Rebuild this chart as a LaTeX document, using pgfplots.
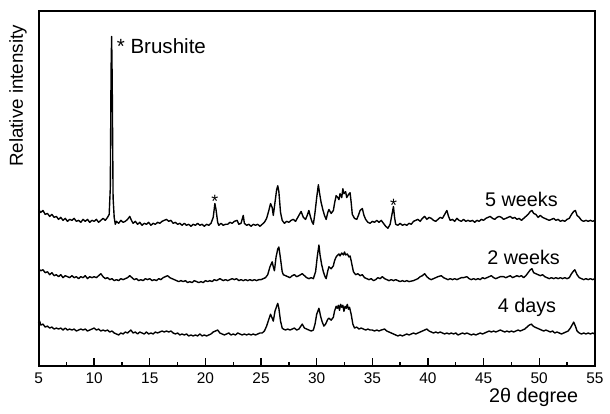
\documentclass[border=0pt]{standalone}
\usepackage{fontspec}
\setmainfont{Liberation Sans}
\usepackage{pgfplots}
\pgfplotsset{compat=1.18}

\begin{document}
\begin{tikzpicture}
\begin{axis}[width=281.5pt, height=179.5pt, scale only axis,
  xmin=5, xmax=55, ymin=0, ymax=359, clip=false,
  xtick={5,10,...,55}, minor xtick={7.5,12.5,...,52.5}, ytick=\empty,
  xtick pos=bottom, tick align=inside,
  major tick length=4pt, minor tick length=2pt,
  tick style={black, line width=0.7pt},
  axis line style={line width=1pt},
  /pgf/number format/assume math mode=true,
  tick label style={font=\fontsize{7.8}{9}\selectfont},
  xlabel={2θ degree}, ylabel={Relative intensity},
  xlabel style={font=\fontsize{10}{12}\selectfont, at={(rel axis cs:0.89,0)}, anchor=center, yshift=-16pt},
  ylabel style={font=\fontsize{9.5}{11}\selectfont, at={(rel axis cs:-0.037,0.76)}, anchor=center},
  trace/.style={black, line width=0.7pt, line join=round, mark=none}]

% 5 weeks
\addplot[trace] table {
5.0 158
5.2 155
5.4 157
5.6 153
5.8 154
6.0 151
6.2 153
6.4 150
6.6 151
6.8 148
7.0 150
7.2 147
7.4 149
7.6 146
7.8 148
8.0 147
8.2 149
8.4 146
8.6 147
8.8 145
9.0 148
9.2 146
9.4 148
9.6 145
9.8 147
10.0 146
10.2 148
10.4 145
10.6 147
10.8 149
11.0 147
11.2 150
11.35 153
11.45 180
11.52 300
11.57 333
11.62 290
11.7 170
11.8 150
11.9 143
12.0 146
12.2 144
12.4 147
12.6 145
12.8 146
13.0 148
13.2 151
13.35 147
13.5 144
13.7 146
13.9 143
14.1 145
14.3 142
14.5 144
14.7 143
14.9 145
15.1 142
15.3 144
15.5 143
15.7 145
15.9 144
16.1 146
16.3 147
16.5 148
16.7 146
16.9 147
17.1 144
17.3 145
17.5 143
17.7 144
17.9 142
18.1 144
18.3 142
18.5 143
18.7 141
18.9 143
19.1 142
19.3 144
19.5 142
19.7 143
19.9 141
20.1 143
20.3 142
20.5 144
20.7 150
20.85 164
20.95 158
21.1 145
21.2 142
21.4 144
21.6 142
21.8 143
22.0 143
22.2 145
22.4 144
22.6 146
22.85 147
23.0 143
23.2 144
23.4 152
23.5 144
23.7 142
23.9 143
24.1 141
24.3 143
24.5 142
24.7 143
24.9 141
25.1 143
25.3 145
25.5 149
25.7 157
25.85 164
26.0 160
26.1 152
26.25 165
26.4 178
26.5 182
26.6 176
26.75 155
26.9 147
27.1 144
27.3 146
27.5 145
27.7 147
27.9 148
28.1 146
28.3 150
28.6 156
28.8 150
29.0 148
29.15 152
29.3 157
29.45 150
29.6 145
29.7 143
29.85 155
30.0 170
30.15 183
30.25 175
30.4 165
30.55 158
30.7 152
30.85 148
31.0 155
31.1 158
31.3 154
31.5 157
31.6 164
31.75 172
31.9 170
32.0 168
32.1 174
32.25 170
32.35 179
32.45 174
32.6 176
32.7 170
32.85 173
33.0 175
33.1 165
33.2 153
33.4 149
33.6 148
33.75 152
33.9 157
34.1 159
34.25 152
34.4 148
34.6 145
34.8 144
35.0 146
35.2 145
35.4 147
35.6 145
35.8 147
36.0 144
36.2 141
36.4 139
36.6 143
36.8 155
36.9 161
37.0 150
37.1 143
37.3 142
37.5 144
37.7 142
37.9 143
38.1 142
38.3 144
38.5 143
38.7 146
38.9 147
39.1 148
39.3 146
39.5 149
39.7 151
39.9 148
40.1 150
40.3 149
40.5 147
40.7 146
40.9 148
41.1 150
41.3 149
41.5 153
41.7 157
41.85 151
42.0 147
42.2 148
42.4 146
42.6 149
42.8 147
43.0 146
43.2 148
43.4 146
43.6 147
43.8 146
44.0 147
44.2 145
44.4 147
44.6 146
44.8 148
45.0 147
45.2 149
45.4 150
45.6 151
45.8 149
46.0 148
46.2 150
46.4 151
46.6 150
46.8 148
47.0 149
47.2 150
47.4 151
47.6 149
47.8 150
48.0 148
48.2 149
48.4 147
48.6 149
48.8 151
49.0 153
49.2 156
49.35 157
49.5 154
49.7 153
49.9 150
50.1 152
50.3 150
50.5 149
50.7 148
50.9 147
51.1 148
51.3 149
51.5 147
51.7 148
51.9 146
52.1 147
52.3 146
52.5 148
52.7 149
52.9 153
53.1 156
53.25 157
53.4 152
53.6 150
53.8 147
54.0 146
54.2 147
54.4 146
54.6 147
54.8 146
55.0 147
};

% 2 weeks
\addplot[trace] table {
5.0 98
5.2 96
5.4 97
5.6 94
5.8 95
6.0 92
6.2 94
6.4 91
6.6 92
6.8 90
7.0 92
7.2 89
7.4 91
7.6 90
7.8 89
8.0 91
8.2 89
8.4 90
8.6 88
8.8 90
9.0 89
9.2 91
9.4 88
9.6 90
9.8 89
10.0 90
10.2 89
10.4 91
10.6 93
10.8 90
11.0 88
11.2 89
11.4 87
11.6 88
11.8 86
12.0 87
12.2 86
12.4 88
12.6 87
12.8 88
13.0 89
13.2 91
13.4 89
13.6 87
13.8 88
14.0 86
14.2 87
14.4 86
14.6 88
14.8 87
15.0 88
15.2 86
15.4 87
15.6 86
15.8 88
16.0 87
16.2 89
16.4 90
16.6 91
16.8 89
17.0 88
17.2 87
17.4 86
17.6 85
17.8 86
18.0 85
18.2 86
18.4 84
18.6 85
18.8 84
19.0 86
19.2 85
19.4 84
19.6 85
19.8 84
20.0 86
20.2 85
20.4 86
20.6 85
20.8 87
21.0 86
21.3 88
21.6 86
21.8 87
22.0 86
22.2 87
22.4 88
22.6 87
22.8 88
23.0 86
23.2 87
23.4 86
23.6 87
23.8 86
24.0 87
24.2 86
24.4 87
24.6 86
24.8 87
25.0 87
25.2 88
25.4 89
25.6 92
25.8 100
26.0 105
26.1 100
26.2 96
26.35 110
26.5 118
26.6 120
26.75 108
26.9 95
27.0 92
27.2 91
27.4 90
27.6 89
27.8 91
28.0 92
28.2 90
28.4 91
28.7 93
28.9 91
29.1 89
29.3 88
29.5 89
29.7 88
29.9 95
30.05 110
30.2 122
30.3 112
30.45 102
30.6 95
30.75 90
30.85 88
31.0 96
31.1 100
31.3 98
31.5 101
31.6 106
31.75 110
31.9 112
32.0 113
32.1 111
32.25 114
32.4 112
32.5 115
32.6 112
32.75 113
32.9 110
33.0 111
33.1 106
33.3 95
33.5 92
33.7 93
33.9 91
34.1 92
34.3 89
34.5 88
34.7 87
34.9 88
35.1 86
35.3 87
35.5 89
35.7 88
35.9 90
36.1 88
36.3 87
36.5 86
36.7 87
36.9 86
37.1 87
37.3 86
37.5 85
37.7 86
37.9 85
38.1 86
38.3 85
38.7 86
38.9 87
39.1 88
39.3 90
39.5 91
39.7 93
39.9 90
40.1 88
40.3 87
40.5 88
40.7 89
40.9 90
41.2 91
41.4 89
41.6 88
41.8 87
42.0 88
42.2 87
42.4 88
42.6 87
42.8 88
43.0 89
43.2 89
43.5 90
43.7 88
43.9 87
44.1 88
44.3 87
44.5 88
44.7 87
44.9 89
45.1 88
45.3 89
45.5 90
45.7 91
45.9 89
46.1 88
46.3 89
46.5 90
46.8 90
47.0 89
47.2 90
47.4 91
47.6 89
47.8 90
48.0 91
48.2 90
48.4 91
48.6 89
48.8 91
49.0 94
49.2 97
49.35 98
49.5 94
49.7 93
49.9 92
50.1 91
50.3 92
50.5 90
50.7 89
50.9 88
51.1 89
51.3 88
51.5 89
51.7 88
51.9 89
52.1 88
52.3 89
52.5 88
52.7 89
52.9 93
53.1 96
53.2 97
53.4 92
53.6 89
53.8 88
54.0 87
54.2 88
54.4 87
54.6 88
54.8 87
55.0 88
};

% 4 days
\addplot[trace] table {
5.0 43
5.1 45
5.2 41
5.4 42
5.6 39
5.8 40
6.0 38
6.2 39
6.4 37
6.6 38
6.8 37
7.0 38
7.2 36
7.4 38
7.6 36
7.8 37
8.0 36
8.2 37
8.4 35
8.6 36
8.8 37
9.0 36
9.2 37
9.4 35
9.6 36
9.8 37
10.0 38
10.2 36
10.4 37
10.6 35
10.8 36
11.0 35
11.2 36
11.4 34
11.6 35
11.8 33
12.0 32
12.2 31
12.4 33
12.6 32
12.8 34
13.0 33
13.2 35
13.3 36
13.5 33
13.7 34
13.9 32
14.1 34
14.3 33
14.5 32
14.7 34
14.9 32
15.1 33
15.3 32
15.5 34
15.7 33
15.9 34
16.1 35
16.3 34
16.5 35
16.7 34
16.9 35
17.1 33
17.3 32
17.5 33
17.7 31
17.9 32
18.1 31
18.3 32
18.5 30
18.7 31
18.9 30
19.1 31
19.3 30
19.5 32
19.7 30
19.9 31
20.1 30
20.3 31
20.5 32
20.7 34
20.9 35
21.1 36
21.3 33
21.5 32
21.7 31
21.9 32
22.1 33
22.3 31
22.5 32
22.7 31
22.9 33
23.1 32
23.3 31
23.5 32
23.7 31
23.9 32
24.1 31
24.3 32
24.5 31
24.7 32
24.9 33
25.1 33
25.3 35
25.5 40
25.7 47
25.85 52
26.0 48
26.1 45
26.25 55
26.4 60
26.5 63
26.6 58
26.75 45
26.9 38
27.0 37
27.2 36
27.4 37
27.6 36
27.8 37
28.0 38
28.2 36
28.4 37
28.7 42
28.9 38
29.1 37
29.3 36
29.5 35
29.7 36
29.85 42
30.0 52
30.2 58
30.35 50
30.5 44
30.65 40
30.8 42
31.0 47
31.1 48
31.3 46
31.5 49
31.6 55
31.75 60
31.85 58
31.95 61
32.05 56
32.15 62
32.25 59
32.35 61
32.45 55
32.55 60
32.65 58
32.75 62
32.85 57
32.95 59
33.1 52
33.25 42
33.4 38
33.6 39
33.8 37
34.0 38
34.2 37
34.4 36
34.6 37
34.8 36
35.0 36
35.2 35
35.4 36
35.6 35
35.8 36
36.1 37
36.3 35
36.5 34
36.7 33
36.9 32
37.1 31
37.3 30
37.5 31
37.7 30
37.9 31
38.1 32
38.3 31
38.5 32
38.7 33
38.9 32
39.1 33
39.3 34
39.5 35
39.7 36
39.9 37
40.1 35
40.3 34
40.5 33
40.7 34
40.9 33
41.1 34
41.3 33
41.5 32
41.7 33
41.9 32
42.1 33
42.3 32
42.5 33
42.7 31
42.9 32
43.1 33
43.3 32
43.5 33
43.7 32
43.9 31
44.1 32
44.3 31
44.5 32
44.7 33
44.9 32
45.1 33
45.3 34
45.5 35
45.7 34
45.9 35
46.1 34
46.3 35
46.5 36
46.7 35
46.9 34
47.1 35
47.3 34
47.5 35
47.7 34
47.9 35
48.1 36
48.3 35
48.5 36
48.7 37
48.9 39
49.1 41
49.3 42
49.45 40
49.6 39
49.8 38
50.0 37
50.2 36
50.4 35
50.6 36
50.8 35
51.0 34
51.2 35
51.4 33
51.6 34
51.8 33
52.0 32
52.2 33
52.4 34
52.6 35
52.8 38
53.0 42
53.1 44
53.25 40
53.4 35
53.6 33
53.8 32
54.0 33
54.2 32
54.4 33
54.6 32
54.8 33
55.0 32
};

\node[anchor=west, font=\fontsize{10.4}{12}\selectfont, inner sep=0pt] at (axis cs:12.0,323) {* Brushite};
\node[font=\fontsize{9}{10}\selectfont, inner sep=0pt] at (axis cs:20.85,166) {*};
\node[font=\fontsize{9}{10}\selectfont, inner sep=0pt] at (axis cs:36.9,162) {*};
\node[font=\fontsize{10}{12}\selectfont] at (axis cs:48.4,168) {5 weeks};
\node[font=\fontsize{10}{12}\selectfont] at (axis cs:48.6,109) {2 weeks};
\node[font=\fontsize{10}{12}\selectfont] at (axis cs:48.9,59) {4 days};
\end{axis}
\path (current axis.north west) ++(-19.5pt,5.5pt);
\path (current axis.south west) ++(0,-22pt);
\end{tikzpicture}
\end{document}
